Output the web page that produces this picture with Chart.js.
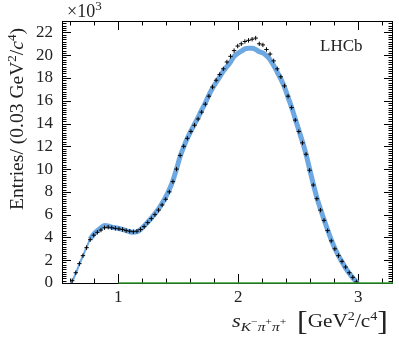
<!DOCTYPE html>
<html>
<head>
<meta charset="utf-8">
<script src="https://cdn.jsdelivr.net/npm/chart.js@4.4.1/dist/chart.umd.min.js"></script>
<style>
html,body{margin:0;padding:0;background:#fff}
#wrap{width:399px;height:339px}
</style>
</head>
<body>
<div id="wrap"><canvas id="c" width="399" height="339"></canvas></div>
<script>
// bin centres (0.03 GeV^2/c^4 bins)
const binCenters = [
  0.615,0.645,0.675,0.705,0.735,0.765,0.795,0.825,0.855,0.885,
  0.915,0.945,0.975,1.005,1.035,1.065,1.095,1.125,1.155,1.185,
  1.215,1.245,1.275,1.305,1.335,1.365,1.395,1.425,1.455,1.485,
  1.515,1.545,1.575,1.605,1.635,1.665,1.695,1.725,1.755,1.785,
  1.815,1.845,1.875,1.905,1.935,1.965,1.995,2.025,2.055,2.085,
  2.115,2.145,2.175,2.205,2.235,2.265,2.295,2.325,2.355,2.385,
  2.415,2.445,2.475,2.505,2.535,2.565,2.595,2.625,2.655,2.685,
  2.715,2.745,2.775,2.805,2.835,2.865,2.895,2.925,2.955,2.985
];
// entries, in units of 10^3
const entries = [
  0.2,0.9,1.7,2.4,3.1,3.8,4.2,4.45,4.65,4.85,
  4.9,4.85,4.8,4.75,4.7,4.6,4.55,4.5,4.55,4.7,
  4.95,5.3,5.65,6.0,6.4,6.85,7.35,8.0,8.9,10.0,
  11.2,12.0,12.7,13.3,13.85,14.4,15.0,15.7,16.4,17.2,
  17.8,18.3,18.8,19.4,19.9,20.4,20.8,21.0,21.2,21.3,
  21.4,21.5,21.0,20.9,20.5,20.1,19.5,18.8,18.1,17.3,
  16.4,15.4,14.3,13.3,12.3,11.3,9.9,8.6,7.4,6.4,
  5.5,4.6,3.7,3.0,2.4,1.9,1.4,0.9,0.5,0.1
];
// fit model (blue band)
const fitX = [
  0.6,
  0.615,0.645,0.675,0.705,0.735,0.765,0.795,0.825,0.855,0.885,
  0.915,0.945,0.975,1.005,1.035,1.065,1.095,1.125,1.155,1.185,
  1.215,1.245,1.275,1.305,1.335,1.365,1.395,1.425,1.455,1.485,
  1.515,1.545,1.575,1.605,1.635,1.665,1.695,1.725,1.755,1.785,
  1.815,1.845,1.875,1.905,1.935,1.965,1.995,2.025,2.055,2.085,
  2.115,2.145,2.175,2.205,2.235,2.265,2.295,2.325,2.355,2.385,
  2.415,2.445,2.475,2.505,2.535,2.565,2.595,2.625,2.655,2.685,
  2.715,2.745,2.775,2.805,2.835,2.865,2.895,2.925,2.955,2.985,
  3.0
];
const fitY = [
  0,
  0.15,0.85,1.65,2.4,3.15,3.85,4.3,4.6,4.85,5.05,
  5.0,4.9,4.85,4.8,4.7,4.6,4.5,4.45,4.5,4.7,
  5.0,5.35,5.7,6.1,6.5,7.0,7.55,8.2,9.0,10.0,
  11.1,11.95,12.7,13.35,13.95,14.55,15.2,15.8,16.5,17.1,
  17.6,18.1,18.6,19.0,19.4,19.9,20.15,20.35,20.55,20.6,
  20.6,20.5,20.3,20.2,19.95,19.6,19.1,18.5,17.9,17.2,
  16.3,15.4,14.4,13.4,12.4,11.3,10.0,8.7,7.5,6.5,
  5.55,4.65,3.8,3.05,2.4,1.85,1.3,0.85,0.45,0.1,
  0
];
// background component (green)
const bkgX = [1.0, 3.29];
const bkgY = [0, 0];

const xLabels = [1, 2, 3];
const yLabels = [0, 2, 4, 6, 8, 10, 12, 14, 16, 18, 20, 22];

const FONT = "'Liberation Serif', 'DejaVu Serif', serif";

function drawPieces(ctx, pieces, x, y) {
  for (const p of pieces) {
    ctx.font = p[1];
    ctx.fillText(p[0], x, y + (p[2] || 0));
    x += ctx.measureText(p[0]).width;
  }
  return x;
}
function piecesWidth(ctx, pieces) {
  let w = 0;
  for (const p of pieces) { ctx.font = p[1]; w += ctx.measureText(p[0]).width; }
  return w;
}

const decor = {
  id: 'decor',
  beforeDatasetsDraw(chart) {
    // frame and inward ticks, under the marks
    const ctx = chart.ctx;
    const a = chart.chartArea;
    const xs = chart.scales.x, ys = chart.scales.y;
    ctx.save();
    ctx.strokeStyle = '#000';
    ctx.lineWidth = 1;
    ctx.strokeRect(a.left + 0.5, a.top + 0.5, a.right - a.left - 1, a.bottom - a.top);
    ctx.beginPath();
    for (let i = 0; i <= 115; i++) {
      const py = Math.round(ys.getPixelForValue(i * 0.2)) + 0.5;
      const len = i % 10 === 0 ? 9 : 4.5;
      ctx.moveTo(a.left, py); ctx.lineTo(a.left + len, py);
      ctx.moveTo(a.right, py); ctx.lineTo(a.right - len, py);
    }
    for (let i = 3; i <= 16; i++) {
      const px = Math.round(xs.getPixelForValue(i * 0.2)) + 0.5;
      const len = i % 5 === 0 ? 9 : 4.5;
      ctx.moveTo(px, a.bottom); ctx.lineTo(px, a.bottom - len);
      ctx.moveTo(px, a.top); ctx.lineTo(px, a.top + len);
    }
    ctx.stroke();
    ctx.restore();
  },
  afterDraw(chart) {
    const ctx = chart.ctx;
    ctx.save();
    ctx.fillStyle = '#222';
    ctx.textBaseline = 'alphabetic';
    ctx.textAlign = 'left';

    // x10^3
    drawPieces(ctx, [['\u00d710', '18px ' + FONT], ['3', '13px ' + FONT, -7]], 67, 17);

    // LHCb
    ctx.font = '17px ' + FONT;
    ctx.fillText('LHCb', 320, 51);

    // y title
    const yt = [
      ['Entries/ (0.03 GeV', '18px ' + FONT],
      ['2', '12px ' + FONT, -7],
      ['/', '18px ' + FONT],
      ['c', 'italic 18px ' + FONT],
      ['4', '12px ' + FONT, -7],
      [')', '18px ' + FONT]
    ];
    const ytw = piecesWidth(ctx, yt);
    ctx.save();
    ctx.translate(23, 210);
    ctx.rotate(-Math.PI / 2);
    ctx.scale(182 / ytw, 1);
    drawPieces(ctx, yt, 0, 0);
    ctx.restore();

    // x title
    const xt = [
      ['s', 'italic 19px ' + FONT],
      ['K', 'italic 13px ' + FONT, 4],
      ['\u2212', '10px ' + FONT, -2],
      ['\u03c0', 'italic 13px ' + FONT, 4],
      ['+', '10px ' + FONT, -2],
      ['\u03c0', 'italic 13px ' + FONT, 4],
      ['+', '10px ' + FONT, -2],
      ['  ', '18px ' + FONT],
      ['[', '27px ' + FONT, 3],
      ['GeV', '18px ' + FONT],
      ['2', '12px ' + FONT, -7],
      ['/c', '18px ' + FONT],
      ['4', '12px ' + FONT, -7],
      [']', '27px ' + FONT, 3]
    ];
    const xtw = piecesWidth(ctx, xt);
    ctx.save();
    ctx.translate(232, 327);
    ctx.scale(156 / xtw, 1);
    drawPieces(ctx, xt, 0, 0);
    ctx.restore();

    ctx.restore();
  }
};

const ctx = document.getElementById('c').getContext('2d');
const chart = new Chart(ctx, {
  type: 'scatter',
  data: {
    datasets: [
      {
        label: 'Background',
        type: 'line',
        data: bkgX.map((x, i) => ({ x: x, y: bkgY[i] })),
        borderColor: '#2f9a2f',
        borderWidth: 1.5,
        pointRadius: 0,
        clip: false,
        order: 0
      },
      {
        label: 'Data',
        data: binCenters.map((x, i) => ({ x: x, y: entries[i] })),
        showLine: false,
        pointStyle: 'cross',
        pointRadius: 2.2,
        borderWidth: 1,
        borderColor: '#000',
        backgroundColor: '#000',
        order: 1
      },
      {
        label: 'Fit',
        type: 'line',
        data: fitX.map((x, i) => ({ x: x, y: fitY[i] })),
        borderColor: '#6ea8e2',
        borderWidth: 5,
        pointRadius: 0,
        cubicInterpolationMode: 'monotone',
        segment: { borderWidth: c => c.p0.parsed.x < 0.75 ? 2 : 5 },
        fill: false,
        order: 2
      }
    ]
  },
  options: {
    responsive: false,
    animation: false,
    devicePixelRatio: 1,
    layout: { padding: { top: 21, right: 6, left: 0, bottom: 0 } },
    plugins: { legend: { display: false }, tooltip: { enabled: false } },
    scales: {
      x: {
        type: 'linear',
        min: 0.53,
        max: 3.29,
        afterBuildTicks: s => { s.ticks = xLabels.map(v => ({ value: v })); },
        afterFit: s => { s.height = 56; },
        grid: { display: false, drawTicks: false },
        border: { display: false },
        ticks: { color: '#222', padding: 4, font: { family: FONT, size: 17 }, maxRotation: 0 }
      },
      y: {
        min: 0,
        max: 23,
        afterBuildTicks: s => { s.ticks = yLabels.map(v => ({ value: v })); },
        afterFit: s => { s.width = 62; },
        grid: { display: false, drawTicks: false },
        border: { display: false },
        ticks: { color: '#222', padding: 9, font: { family: FONT, size: 17 } }
      }
    }
  },
  plugins: [decor]
});
</script>
</body>
</html>
